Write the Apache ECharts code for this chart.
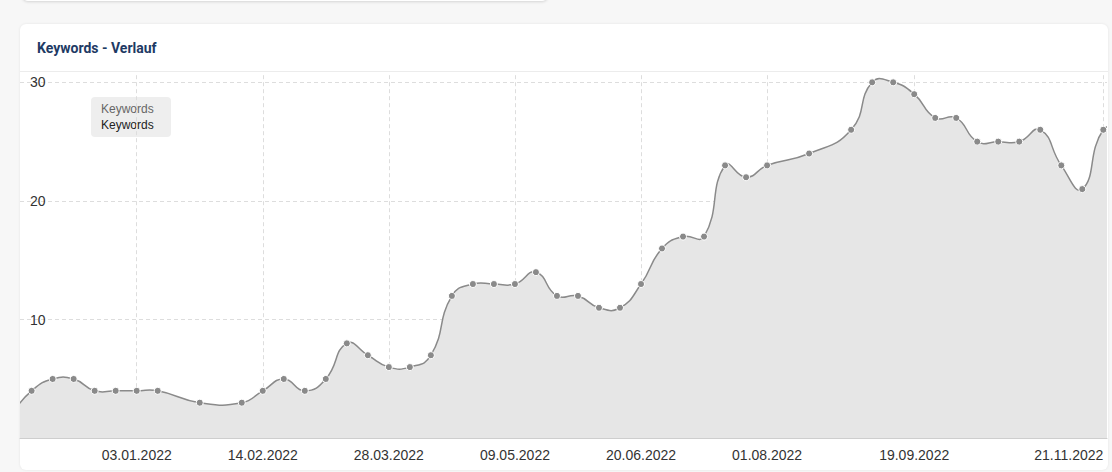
<!DOCTYPE html>
<html>
<head>
<meta charset="utf-8">
<script src="https://cdn.jsdelivr.net/npm/echarts@6/dist/echarts.min.js"></script>
<style>
  html, body { margin: 0; padding: 0; width: 1112px; height: 472px; overflow: hidden; background: #f7f7f7; }
  .topcard { position: absolute; left: 22px; top: -20px; width: 526px; height: 21px; background: #fff; border-radius: 6px; box-shadow: 0 1px 3px rgba(0,0,0,0.14); }
  .card { position: absolute; left: 20px; top: 24px; width: 1088px; height: 446px; background: #fff; border-radius: 6px; box-shadow: 0 0 3px rgba(0,0,0,0.08); }
  .sep { position: absolute; left: 20px; top: 71px; width: 1088px; height: 1px; background: #ececec; }
  #chart { position: absolute; left: 0; top: 0; width: 1112px; height: 472px; }
</style>
</head>
<body>
<div class="topcard"></div>
<div class="card"></div>
<div class="sep"></div>
<div id="chart"></div>
<script>
// ---- data ----
const dates = [
  '2021-11-22','2021-11-29','2021-12-06','2021-12-13','2021-12-20','2021-12-27',
  '2022-01-03','2022-01-10','2022-01-24','2022-02-07','2022-02-14','2022-02-21',
  '2022-02-28','2022-03-07','2022-03-14','2022-03-21','2022-03-28','2022-04-04',
  '2022-04-11','2022-04-18','2022-04-25','2022-05-02','2022-05-09','2022-05-16',
  '2022-05-23','2022-05-30','2022-06-06','2022-06-13','2022-06-20','2022-06-27',
  '2022-07-04','2022-07-11','2022-07-18','2022-07-25','2022-08-01','2022-08-15',
  '2022-08-29','2022-09-05','2022-09-12','2022-09-19','2022-09-26','2022-10-03',
  '2022-10-10','2022-10-17','2022-10-24','2022-10-31','2022-11-07','2022-11-14',
  '2022-11-21','2022-11-28'
];
const keywords = [
  2, 4, 5, 5, 4, 4,
  4, 4, 3, 3, 4, 5,
  4, 5, 8, 7, 6, 6,
  7, 12, 13, 13, 13, 14,
  12, 12, 11, 11, 13, 16,
  17, 17, 23, 22, 23, 24,
  26, 30, 30, 29, 27, 27,
  25, 25, 25, 26, 23, 21,
  26, 26
];
const xTickLabels = ['03.01.2022','14.02.2022','28.03.2022','09.05.2022','20.06.2022','01.08.2022','19.09.2022','21.11.2022'];
const yTickValues = [0, 10, 20, 30];
const yLabelValues = [10, 20, 30];
const seriesName = 'Keywords';
const chartTitle = 'Keywords - Verlauf';
// visible window of the date axis
const xMin = '2021-11-25T03:00:00Z';
const xMax = '2022-11-22T05:30:00Z';

function isoToTs(s) {
  const p = s.slice(0, 10).split('-').map(Number);
  return Date.UTC(p[0], p[1] - 1, p[2]);
}
function deToTs(s) {
  const p = s.split('.').map(Number);
  return Date.UTC(p[2], p[1] - 1, p[0]);
}
function pad(n) { return (n < 10 ? '0' : '') + n; }
function fmt(ts) {
  const d = new Date(ts);
  return pad(d.getUTCDate()) + '.' + pad(d.getUTCMonth() + 1) + '.' + d.getUTCFullYear();
}

const seriesData = dates.map((d, i) => [isoToTs(d), keywords[i]]);
const xTicks = xTickLabels.map(deToTs);
const TENSION = 0.5;

// Cardinal-style spline through the points (pixel positions come from the axes via api.coord)
function splinePaths(pts, baseY) {
  const n = pts.length;
  const cps = pts.map((p, i) => {
    const prev = pts[Math.max(0, i - 1)];
    const next = pts[Math.min(n - 1, i + 1)];
    const d01 = Math.hypot(p[0] - prev[0], p[1] - prev[1]);
    const d12 = Math.hypot(next[0] - p[0], next[1] - p[1]);
    const sum = d01 + d12 || 1;
    const fa = TENSION * d01 / sum, fb = TENSION * d12 / sum;
    const vx = next[0] - prev[0], vy = next[1] - prev[1];
    return { prev: [p[0] - fa * vx, p[1] - fa * vy], next: [p[0] + fb * vx, p[1] + fb * vy] };
  });
  const f = (v) => v.toFixed(2);
  let line = 'M' + f(pts[0][0]) + ' ' + f(pts[0][1]);
  for (let i = 1; i < n; i++) {
    const c1 = cps[i - 1].next, c2 = cps[i].prev, p = pts[i];
    line += ' C' + f(c1[0]) + ' ' + f(c1[1]) + ' ' + f(c2[0]) + ' ' + f(c2[1]) + ' ' + f(p[0]) + ' ' + f(p[1]);
  }
  const area = line + ' L' + f(pts[n - 1][0]) + ' ' + f(baseY) + ' L' + f(pts[0][0]) + ' ' + f(baseY) + ' Z';
  return { line, area };
}

const chart = echarts.init(document.getElementById('chart'), null, { renderer: 'svg' });
chart.setOption({
  animation: false,
  backgroundColor: 'transparent',
  title: {
    text: chartTitle,
    left: 37,
    top: 41,
    padding: 0,
    textStyle: { fontFamily: 'Roboto', fontWeight: 'bold', fontSize: 14, color: '#1e3a64' }
  },
  grid: {
    left: 20, right: 5, top: 75.2, bottom: 33.7,
    containLabel: false,
    outerBoundsMode: 'none'
  },
  xAxis: {
    type: 'value',
    min: new Date(xMin).getTime(),
    max: new Date(xMax).getTime(),
    axisLine: { show: true, onZero: false, lineStyle: { color: '#cccccc', width: 1 } },
    axisTick: { show: false, customValues: xTicks },
    axisLabel: {
      customValues: xTicks,
      formatter: (v) => fmt(v),
      color: '#333333',
      fontFamily: 'Liberation Sans',
      fontSize: 14,
      margin: 10,
      alignMaxLabel: 'right',
      hideOverlap: false
    },
    splitLine: { show: true, lineStyle: { color: '#dddddd', type: [4, 3], width: 1 } }
  },
  yAxis: {
    type: 'value',
    min: 0,
    max: 30.6,
    axisLine: { show: false },
    axisTick: { show: false, customValues: yTickValues },
    axisLabel: {
      inside: true,
      customValues: yLabelValues,
      color: '#333333',
      fontFamily: 'Liberation Sans',
      fontSize: 14,
      margin: 10
    },
    splitLine: { show: true, lineStyle: { color: '#dddddd', type: [4, 3], width: 1 } }
  },
  graphic: [
    {
      type: 'group',
      left: 91,
      top: 97,
      z: 100,
      children: [
        { type: 'rect', shape: { x: 0, y: 0, width: 80, height: 40, r: 4 }, style: { fill: '#eeeeee' } },
        { type: 'text', x: 10, y: 12, style: { text: seriesName, fill: '#666666', font: '12px "Liberation Sans"', verticalAlign: 'middle' } },
        { type: 'text', x: 10, y: 27.5, style: { text: seriesName, fill: '#222222', font: '12px "Liberation Sans"', verticalAlign: 'middle' } }
      ]
    }
  ],
  series: [
    {
      name: seriesName,
      type: 'custom',
      data: seriesData,
      encode: { x: 0, y: 1 },
      clip: true,
      silent: true,
      renderItem: function (params, api) {
        if (params.dataIndex !== 0) return null;
        const pts = seriesData.map((d) => api.coord(d));
        const baseY = api.coord([seriesData[0][0], 0])[1];
        const p = splinePaths(pts, baseY);
        return {
          type: 'group',
          children: [
            { type: 'path', shape: { pathData: p.area }, style: { fill: '#e6e6e6', stroke: null } },
            { type: 'path', shape: { pathData: p.line }, style: { fill: null, stroke: '#8a8a8a', lineWidth: 1.5 } }
          ]
        };
      }
    },
    {
      name: seriesName,
      type: 'scatter',
      data: seriesData,
      clip: true,
      symbol: 'circle',
      symbolSize: 7,
      itemStyle: { color: '#8a8a8a', borderColor: '#ffffff', borderWidth: 1, opacity: 1 },
      emphasis: { disabled: true }
    }
  ]
});
</script>
</body>
</html>
